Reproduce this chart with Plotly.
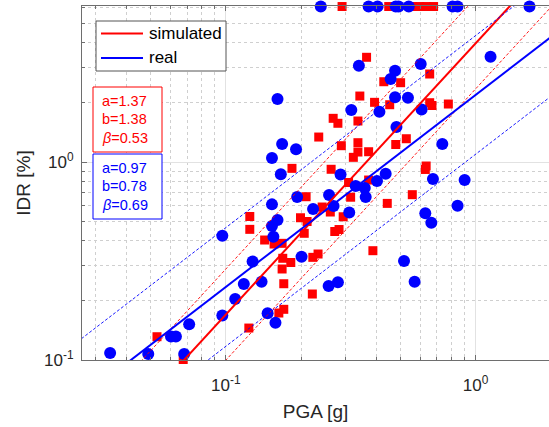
import numpy as np
import plotly.graph_objects as go

# ---------------- data ----------------
real_pga = [0.240, 0.373, 0.405, 0.479, 0.492, 0.540, 0.809, 0.847, 1.644,
            0.161, 0.168, 0.191, 0.153, 0.166, 0.193, 0.153, 0.161, 0.153, 0.155, 0.0968,
            0.128, 0.118, 0.139, 0.109, 0.0968, 0.0713, 0.0603, 0.0631, 0.0344, 0.0489, 0.0681,
            0.147, 0.158, 0.201, 0.2235, 0.270, 0.312, 0.259, 0.331, 0.360, 0.363,
            0.288, 0.403, 0.4365, 0.675, 0.904, 0.736, 0.482, 0.318, 0.412, 0.476,
            0.536, 0.608, 0.341, 0.476, 0.457, 0.603, 1.148, 0.847, 0.629, 0.665,
            0.517, 0.570, 0.258, 0.281]
real_idr = [6.1, 6.1, 6.1, 6.1, 6.1, 6.1, 6.1, 6.1, 6.1,
            2.080, 1.233, 1.159, 1.047, 0.867, 0.666, 0.611, 0.509, 0.475, 0.4195, 0.4244,
            0.3145, 0.2420, 0.2486, 0.2033, 0.1678, 0.1515, 0.1314, 0.1314, 0.1085, 0.1072, 0.1072,
            0.1721, 0.1543, 0.3324, 0.579, 0.5995, 0.5557, 0.6813, 0.7565, 0.739, 0.666,
            0.865, 0.802, 0.873, 0.821, 0.811, 1.233, 1.502, 1.830, 1.795, 2.122,
            2.112, 1.842, 3.064, 2.892, 2.626, 3.126, 3.403, 0.6016, 0.5507, 0.4937,
            0.3162, 0.2486, 0.2365, 0.2469]

sim_pga = [0.292, 0.449, 0.560, 0.597, 0.637, 0.679,
           0.366, 0.429, 0.501, 0.655, 0.344, 0.394, 0.453, 0.655, 0.669, 0.778,
           0.269, 0.281, 0.338, 0.2355, 0.290, 0.338, 0.338, 0.324, 0.373, 0.479, 0.528,
           0.634, 0.629, 0.184, 0.264, 0.310, 0.373, 0.316, 0.2096, 0.558, 0.443,
           0.243, 0.262, 0.295, 0.199, 0.2115, 0.206, 0.273, 0.284, 0.1247, 0.1247,
           0.143, 0.156, 0.168, 0.169, 0.182, 0.168, 0.1706, 0.223, 0.234, 0.388,
           0.222, 0.163, 0.1706, 0.1236, 0.053, 0.0675]
sim_idr = [6.1, 6.1, 6.1, 6.1, 6.1, 6.1,
           3.380, 2.544, 2.515, 2.783, 2.154, 2.002, 1.947, 1.993, 1.929, 1.963,
           1.662, 1.569, 1.611, 1.337, 1.209, 1.252, 1.123, 1.056, 1.127, 1.226, 1.311,
           0.9546, 0.917, 0.929, 0.919, 0.788, 0.811, 0.664, 0.668, 0.684, 0.618,
           0.5925, 0.559, 0.529, 0.523, 0.5006, 0.4365, 0.4457, 0.456, 0.5306, 0.457,
           0.4037, 0.3853, 0.3884, 0.3264, 0.3108, 0.2882, 0.2428, 0.330, 0.343, 0.3565,
           0.2154, 0.1727, 0.1803, 0.145, 0.1311, 0.1006]

# fit parameters: ln(IDR) = b + a*ln(PGA), dispersion beta
sim_a, sim_b, sim_beta = 1.37, 1.38, 0.53
real_a, real_b, real_beta = 0.97, 0.78, 0.69

series_names = ["simulated", "real"]
x_title = "PGA [g]"
y_title = "IDR [%]"
major_tickvals_x = [0.1, 1.0]
major_ticktext_x = ["10<sup>-1</sup>", "10<sup>0</sup>"]
major_tickvals_y = [0.1, 1.0]
major_ticktext_y = ["10<sup>-1</sup>", "10<sup>0</sup>"]

x_range_log = [-1.576, 0.294]
y_range_log = [-1.0, 0.788]

RED = "#ff0000"
BLUE = "#0000ff"
AXC = "#6e6e6e"
TXT = "#262626"
FONT = "Liberation Sans, Arial, sans-serif"

fig = go.Figure()

# scatter points
fig.add_trace(go.Scatter(x=sim_pga, y=sim_idr, mode="markers", showlegend=False, name=series_names[0],
                         marker=dict(symbol="square", size=9, color=RED, line=dict(width=0)),
                         cliponaxis=False))
fig.add_trace(go.Scatter(x=real_pga, y=real_idr, mode="markers", showlegend=False, name=series_names[1],
                         marker=dict(symbol="circle", size=12, color=BLUE, line=dict(width=0)),
                         cliponaxis=False))

# fitted lines
xs = np.logspace(x_range_log[0] - 0.05, x_range_log[1] + 0.05, 60)
for a, b, beta, col in [(sim_a, sim_b, sim_beta, RED), (real_a, real_b, real_beta, BLUE)]:
    med = np.exp(b) * xs ** a
    for k in (-1, 1):
        fig.add_trace(go.Scatter(x=xs, y=med * np.exp(k * beta), mode="lines", showlegend=False,
                                 line=dict(color=col, width=0.9, dash="3px,2px"), hoverinfo="skip"))
    fig.add_trace(go.Scatter(x=xs, y=med, mode="lines", showlegend=False,
                             line=dict(color=col, width=2), hoverinfo="skip"))


def minor_vals(lo, hi):
    out = []
    for n in range(int(np.floor(lo)) - 1, int(np.ceil(hi)) + 1):
        for k in range(2, 10):
            v = k * 10.0 ** n
            if lo <= np.log10(v) <= hi:
                out.append(v)
    return out


axis_common = dict(
    type="log", showline=True, linecolor=AXC, linewidth=1,
    ticks="inside", ticklen=5, tickcolor=AXC, tickwidth=1,
    showgrid=True, gridcolor="#e2e2e2", gridwidth=1, zeroline=False,
    tickfont=dict(family=FONT, size=17, color=TXT),
    title_font=dict(family=FONT, size=19, color=TXT),
)

fig.update_xaxes(**axis_common, range=x_range_log, mirror="ticks",
                 tickmode="array", tickvals=major_tickvals_x, ticktext=major_ticktext_x,
                 ticklabelstandoff=10,
                 title_text=x_title, title_standoff=10,
                 minor=dict(tickmode="array", tickvals=minor_vals(*x_range_log), ticks="inside",
                            ticklen=3, tickcolor=AXC, showgrid=True, gridcolor="#cfcfcf",
                            griddash="dot", gridwidth=1))
fig.update_yaxes(**axis_common, range=y_range_log, mirror=False,
                 tickmode="array", tickvals=major_tickvals_y, ticktext=major_ticktext_y,
                 ticklabelstandoff=4,
                 title_text=y_title, title_standoff=8,
                 minor=dict(tickmode="array", tickvals=minor_vals(*y_range_log), ticks="inside",
                            ticklen=3, tickcolor=AXC, showgrid=True, gridcolor="#cfcfcf",
                            griddash="dot", gridwidth=1))

W, H = 549, 427
ml, mr, mt, mb = 82, 0, 6, 67
pw, ph = W - ml - mr, H - mt - mb


def px(xp):
    return (xp - ml) / pw


def py(yp):
    return 1 - (yp - mt) / ph


fig.update_layout(
    width=W, height=H, margin=dict(l=ml, r=mr, t=mt, b=mb, pad=0),
    paper_bgcolor="white", plot_bgcolor="white",
    font=dict(family=FONT, color=TXT),
    showlegend=False,
)

# manual legend (MATLAB style)
fig.add_shape(type="rect", xref="paper", yref="paper", x0=px(96), x1=px(226), y0=py(71), y1=py(21),
              line=dict(color="#555555", width=1), fillcolor="white", layer="above")
for i, (name, col) in enumerate(zip(series_names, [RED, BLUE])):
    yy = 33.5 + 24.4 * i
    fig.add_shape(type="line", xref="paper", yref="paper", x0=px(101), x1=px(143), y0=py(yy), y1=py(yy),
                  line=dict(color=col, width=2), layer="above")
    fig.add_annotation(xref="paper", yref="paper", x=px(147), y=py(yy), xanchor="left", yanchor="middle",
                       text=name, showarrow=False, font=dict(family=FONT, size=17, color="#000000"))

# parameter boxes
box_specs = [
    (f"a={sim_a:.2f}", f"b={sim_b:.2f}", f"<i>β</i>={sim_beta:.2f}", RED, 87, 152),
    (f"a={real_a:.2f}", f"b={real_b:.2f}", f"<i>β</i>={real_beta:.2f}", BLUE, 154, 219),
]
for t1, t2, t3, col, ytop, ybot in box_specs:
    fig.add_shape(type="rect", xref="paper", yref="paper", x0=px(93), x1=px(162), y0=py(ybot), y1=py(ytop),
                  line=dict(color=col, width=1), fillcolor="white", layer="above")
    for j, t in enumerate((t1, t2, t3)):
        fig.add_annotation(xref="paper", yref="paper", x=px(100), y=py(ytop + 14 + 18.4 * j),
                           xanchor="left", yanchor="middle", text=t, showarrow=False,
                           font=dict(family=FONT, size=14.5, color=col))

fig.write_html("out.html")
